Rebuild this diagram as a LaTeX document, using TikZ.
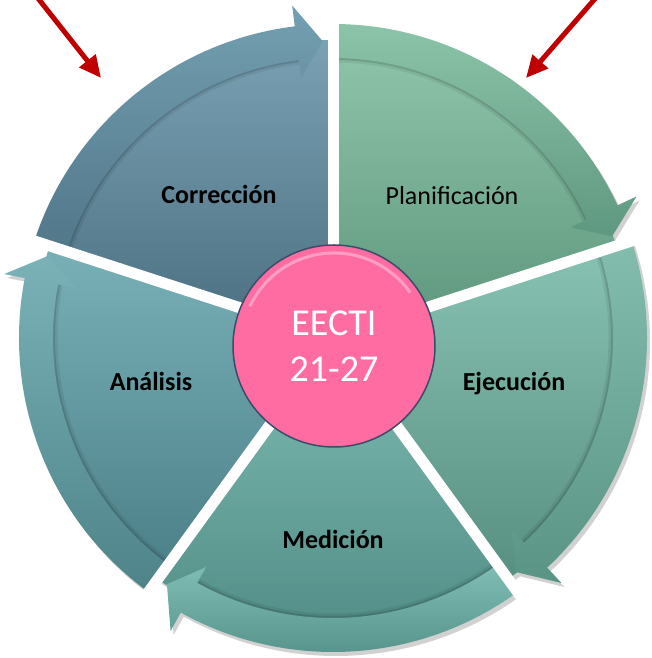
\documentclass[tikz,border=0pt]{standalone}
\usepackage{fontspec}
\setmainfont{Carlito}
\usetikzlibrary{arrows.meta}
\definecolor{coA}{HTML}{7AA2B4}\definecolor{coB}{HTML}{4A6E80}
\definecolor{coC}{HTML}{74A0B2}\definecolor{coD}{HTML}{517789}
\definecolor{plA}{HTML}{8FC6AB}\definecolor{plB}{HTML}{5D957C}
\definecolor{plC}{HTML}{8BC4A8}\definecolor{plD}{HTML}{5F9880}
\definecolor{ejA}{HTML}{88C2B2}\definecolor{ejB}{HTML}{578F80}
\definecolor{ejC}{HTML}{82BDAD}\definecolor{ejD}{HTML}{5A9484}
\definecolor{meA}{HTML}{7EBBB2}\definecolor{meB}{HTML}{4F8B84}
\definecolor{meC}{HTML}{80BDB4}\definecolor{meD}{HTML}{4F8C85}
\definecolor{anA}{HTML}{79B0B7}\definecolor{anB}{HTML}{4B7F87}
\definecolor{anC}{HTML}{7AB2B8}\definecolor{anD}{HTML}{4D8389}
\definecolor{pkA}{HTML}{FF6CA2}\definecolor{pkB}{HTML}{F05C94}
\definecolor{pkC}{HTML}{C9497A}\definecolor{slateC}{HTML}{3C4B68}
\definecolor{redC}{HTML}{C00000}
\pgfdeclareradialshading{pinkball}{\pgfpoint{0bp}{0bp}}{color(0bp)=(pkA); color(40bp)=(pkA); color(47bp)=(pkB); color(50bp)=(pkC); color(70bp)=(pkC)}
\newcommand\segshadow[2]{%
  \pgfmathsetmacro\segHB{#2+7}\pgfmathsetmacro\segHT{#2+2}%
  \fill[black,opacity=.18,shift={(3,-4)}]
    (0,0) -- (#1:298) arc[start angle=#1,end angle=#2,radius=298] -- cycle
    (#1:314) arc[start angle=#1,end angle=\segHB,radius=314] -- (\segHB:335) -- (\segHT:297) -- (\segHB:262) -- (\segHB:280) arc[start angle=\segHB,end angle=#1,radius=280] -- cycle;}
\newcommand\wheelseg[6]{%
  \pgfmathsetmacro\segHB{#2+7}\pgfmathsetmacro\segHT{#2+2}%
  \path[top color=#3,bottom color=#4]
    (0,0) -- (#1:298) arc[start angle=#1,end angle=#2,radius=298] -- cycle;
  \draw[black,opacity=.07,line width=9]
    (#1:280) arc[start angle=#1,end angle=\segHB,radius=280];
  \draw[black,opacity=.12,line width=4]
    (#1:280) arc[start angle=#1,end angle=\segHB,radius=280];
  \path[top color=#5,bottom color=#6]
    (#1:314) arc[start angle=#1,end angle=\segHB,radius=314] -- (\segHB:335) -- (\segHT:297) -- (\segHB:262) -- (\segHB:280) arc[start angle=\segHB,end angle=#1,radius=280] -- cycle;}
\tikzset{lbl/.style={anchor=base,text=black,font=\fontsize{26}{30}\selectfont}}
\begin{document}
\begin{tikzpicture}[x=1pt,y=1pt]
\useasboundingbox (0,0) rectangle (652,658);
\clip (0,0) rectangle (652,658);
\begin{scope}[shift={(333,320)}]
  \segshadow{162}{90}
  \segshadow{90}{18}
  \segshadow{18}{-54}
  \segshadow{-54}{-126}
  \segshadow{234}{162}
  \wheelseg{162}{90}{coA}{coB}{coC}{coD}
  \wheelseg{90}{18}{plA}{plB}{plC}{plD}
  \wheelseg{18}{-54}{ejA}{ejB}{ejC}{ejD}
  \wheelseg{-54}{-126}{meA}{meB}{meC}{meD}
  \wheelseg{234}{162}{anA}{anB}{anC}{anD}
  \foreach \a in {90,18,-54,-126,162} \draw[white,line width=11] (0,0) -- (\a:352);
\end{scope}
\node[circle,minimum size=202pt,inner sep=0pt,shade,shading=pinkball,draw=slateC,line width=1.5pt,
      text=white,align=center,font=\fontsize{38}{46}\selectfont] (core) at (334,312) {EECTI\\21-27};
\draw[white,opacity=.35,line width=3] ([shift={(155:93)}]core.center) arc[start angle=155,end angle=35,radius=93];
\node[lbl,font=\bfseries\fontsize{26}{30}\selectfont] (corr) at (219,454) {Corrección};
\node[lbl] (plan) at (452,453) {Planificación};
\node[lbl,font=\bfseries\fontsize{26}{30}\selectfont] (ejec) at (514,267) {Ejecución};
\node[lbl,font=\bfseries\fontsize{26}{30}\selectfont] (anal) at (151,267) {Análisis};
\node[lbl,font=\bfseries\fontsize{26}{30}\selectfont] (medi) at (333,109) {Medición};
\coordinate (r1s) at (33,666);
\coordinate (r1e) at (101,580);
\coordinate (r2s) at (600,665);
\coordinate (r2e) at (526,580);
\draw[redC,line width=5pt,-{Triangle[length=22pt,width=20pt]}] (r1s) -- (r1e);
\draw[redC,line width=5pt,-{Triangle[length=22pt,width=20pt]}] (r2s) -- (r2e);
\end{tikzpicture}
\end{document}
